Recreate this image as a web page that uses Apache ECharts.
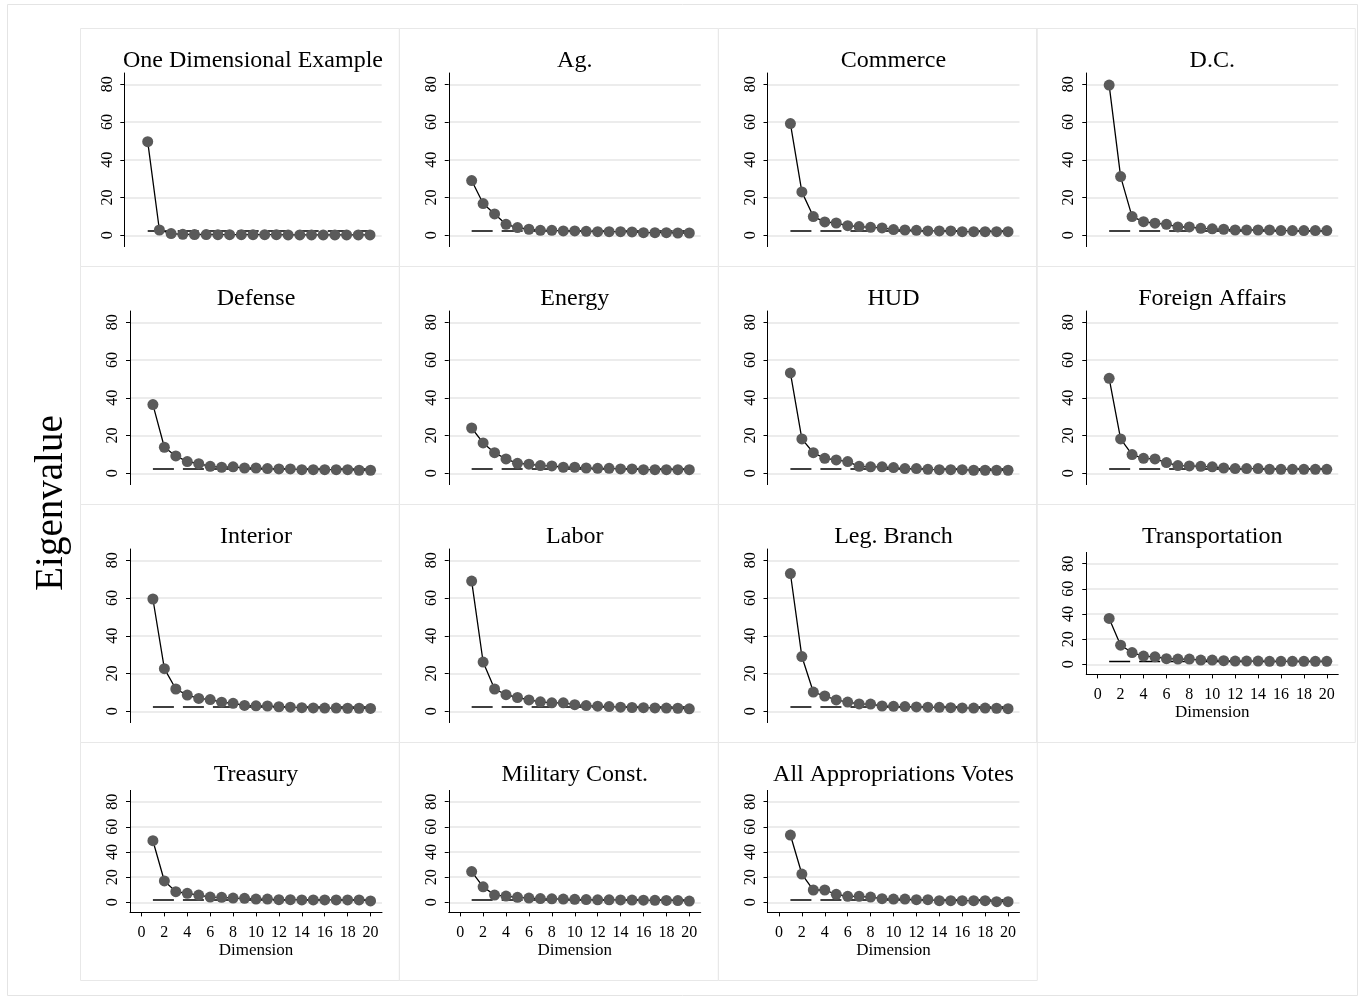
<!DOCTYPE html>
<html>
<head>
<meta charset="utf-8">
<script src="https://cdn.jsdelivr.net/npm/echarts@6/dist/echarts.min.js"></script>
<style>
html,body{margin:0;padding:0;background:#fff;}
#chart{width:1360px;height:998px;}
</style>
</head>
<body>
<div id="chart"></div>
<script>
// ---------- DATA ----------
const panelTitles = ["One Dimensional Example", "Ag.", "Commerce", "D.C.",
  "Defense", "Energy", "HUD", "Foreign Affairs",
  "Interior", "Labor", "Leg. Branch", "Transportation",
  "Treasury", "Military Const.", "All Appropriations Votes"];
const dimensions = [1,2,3,4,5,6,7,8,9,10,11,12,13,14,15,16,17,18,19,20];
const yTickValues = [0,20,40,60,80];
const xTickValues = [0,2,4,6,8,10,12,14,16,18,20];

const oneDimensional = [49.6,2.8,0.9,0.5,0.4,0.4,0.3,0.3,0.3,0.3,0.3,0.3,0.2,0.2,0.2,0.2,0.2,0.2,0.2,0.2];
const ag = [29.0,16.8,11.3,5.8,4.1,3.2,2.6,2.6,2.3,2.3,2.1,1.9,1.9,1.9,1.8,1.4,1.4,1.4,1.2,1.2];
const commerce = [59.2,23.0,9.9,7.1,6.5,5.1,4.6,4.2,3.9,3.0,2.8,2.6,2.3,2.3,2.3,1.9,1.9,1.9,1.9,1.9];
const dc = [79.6,31.1,9.9,7.2,6.4,5.8,4.4,4.4,3.7,3.4,3.2,2.8,2.8,2.8,2.8,2.5,2.5,2.5,2.5,2.5];
const defense = [36.4,13.8,9.2,6.2,5.1,3.7,3.2,3.4,2.8,2.8,2.5,2.3,2.3,1.9,1.9,1.9,1.9,1.9,1.6,1.6];
const energy = [24.0,16.1,10.9,7.6,5.3,4.8,4.1,3.9,3.2,3.2,2.8,2.6,2.6,2.3,2.3,1.9,1.9,1.9,1.9,1.9];
const hud = [53.2,18.2,10.9,7.9,7.1,6.2,3.7,3.4,3.4,3.0,2.5,2.5,2.1,1.9,1.9,1.9,1.6,1.6,1.6,1.6];
const foreignAffairs = [50.3,18.2,9.9,7.9,7.6,5.7,4.1,3.9,3.7,3.4,2.8,2.5,2.5,2.5,2.1,2.1,2.1,2.1,2.1,2.1];
const interior = [59.5,22.6,11.8,8.6,6.8,6.2,4.8,4.2,3.1,2.9,2.8,2.4,2.2,1.9,1.8,1.7,1.7,1.6,1.6,1.5];
const labor = [69.0,26.1,11.8,8.8,7.3,6.0,5.0,4.5,4.5,3.5,3.0,2.7,2.5,2.2,2.0,1.9,1.8,1.7,1.6,1.3];
const legBranch = [73.0,29.0,10.2,8.1,6.0,4.9,3.9,3.8,2.8,2.6,2.5,2.3,2.2,2.1,1.9,1.8,1.7,1.7,1.6,1.4];
const transportation = [36.5,15.2,9.4,6.6,6.0,4.5,4.2,4.2,3.4,3.4,2.9,2.6,2.6,2.6,2.4,2.4,2.4,2.4,2.4,2.4];
const treasury = [49.0,17.0,8.5,7.2,5.8,4.2,4.0,3.4,3.2,2.6,2.6,2.1,2.1,1.9,1.9,1.9,1.9,1.9,1.9,1.1];
const militaryConst = [24.5,12.3,5.8,5.0,4.0,3.4,3.0,2.8,2.6,2.4,2.2,2.0,2.0,1.9,1.8,1.7,1.6,1.5,1.4,1.0];
const allAppropriations = [53.5,22.5,9.8,9.8,6.4,4.8,4.8,4.2,2.9,2.6,2.6,2.1,2.1,1.3,1.3,1.3,1.3,1.3,0.5,0.5];

const referenceLevel = [2.3,2.3,2.3,2.3, 2.3,2.3,2.3,2.3, 2.3,2.3,2.3,2.3, 1.9,1.9,1.9];

const eigenvalues = [oneDimensional, ag, commerce, dc, defense, energy, hud, foreignAffairs,
  interior, labor, legBranch, transportation, treasury, militaryConst, allAppropriations];

// ---------- LAYOUT ----------
const FONT = '"Liberation Serif", "Times New Roman", serif';
const PW = 318.75, PH = 238, PX0 = 80, PY0 = 28;
const grids = [], xAxes = [], yAxes = [], series = [], titles = [], graphics = [];

graphics.push({type:'rect', shape:{x:7.5,y:4.5,width:1350,height:991}, style:{fill:'none', stroke:'#e4e4e4', lineWidth:1}, silent:true});

panelTitles.forEach((t, i) => {
  const col = i % 4, row = Math.floor(i / 4);
  const px = PX0 + col * PW, py = PY0 + row * PH;
  const withX = (i >= 11);
  const left = px + (i === 0 ? 44.3 : 50);
  const width = (i === 0 ? 257.4 : 252);
  let top, height, ymin, ymax;
  if (withX) { top = py + 48.4; height = 122.0; ymin = -8; ymax = 89; }
  else { top = py + 45; height = 173.6; ymin = -6; ymax = 86; }

  graphics.push({type:'rect', shape:{x:Math.round(px)+0.5, y:py+0.5, width:PW, height:PH},
    style:{fill:'none', stroke:'#e8e8e8', lineWidth:1}, silent:true, z:-1});

  grids.push({left:left, top:top, width:width, height:height, containLabel:false});
  titles.push({text:t, left:left + width/2, top:py + 20.5, textAlign:'center', padding:0,
    textStyle:{fontFamily:FONT, fontSize:24, fontWeight:'normal', color:'#000'}});

  xAxes.push({
    gridIndex:i, type:'value', min:-1, max:21,
    axisLine:{show:withX, onZero:false, lineStyle:{color:'#000', width:1}},
    axisTick:{show:withX, customValues:xTickValues, length:4, lineStyle:{color:'#000'}},
    axisLabel:{show:withX, customValues:xTickValues, margin:12, fontFamily:FONT, fontSize:16, color:'#000'},
    splitLine:{show:false},
    name: withX ? 'Dimension' : '', nameLocation:'middle', nameGap:30,
    nameTextStyle:{fontFamily:FONT, fontSize:17, color:'#000'}
  });
  yAxes.push({
    gridIndex:i, type:'value', min:ymin, max:ymax,
    axisLine:{show:true, onZero:false, lineStyle:{color:'#000', width:1}},
    axisTick:{show:true, customValues:yTickValues, length:4, lineStyle:{color:'#000'}},
    axisLabel:{customValues:yTickValues, rotate:90, margin:9, fontFamily:FONT, fontSize:16, color:'#000'},
    splitLine:{show:true, lineStyle:{color:'#e6e6e6', width:1.5}}
  });

  series.push({
    type:'line', xAxisIndex:i, yAxisIndex:i, symbol:'none', silent:true, z:2,
    data:[[dimensions[0], referenceLevel[i]], [dimensions[dimensions.length-1], referenceLevel[i]]],
    lineStyle:{color:'#000', width:1.6, type:[21,9]}
  });
  series.push({
    type:'line', xAxisIndex:i, yAxisIndex:i, symbol:'circle', symbolSize:11, z:3,
    data:dimensions.map((d, k) => [d, eigenvalues[i][k]]),
    itemStyle:{color:'#5a5a5a', borderWidth:0},
    lineStyle:{color:'#000', width:1.3}
  });
});

graphics.push({type:'text', x:52, y:503, rotation:Math.PI/2,
  style:{text:'Eigenvalue', font:'39px ' + FONT, fill:'#000', align:'center', verticalAlign:'middle'}});

const chart = echarts.init(document.getElementById('chart'), null, {renderer:'canvas'});
chart.setOption({
  animation:false,
  backgroundColor:'#fff',
  title:titles, grid:grids, xAxis:xAxes, yAxis:yAxes, series:series,
  graphic:{elements:graphics}
});
</script>
</body>
</html>
